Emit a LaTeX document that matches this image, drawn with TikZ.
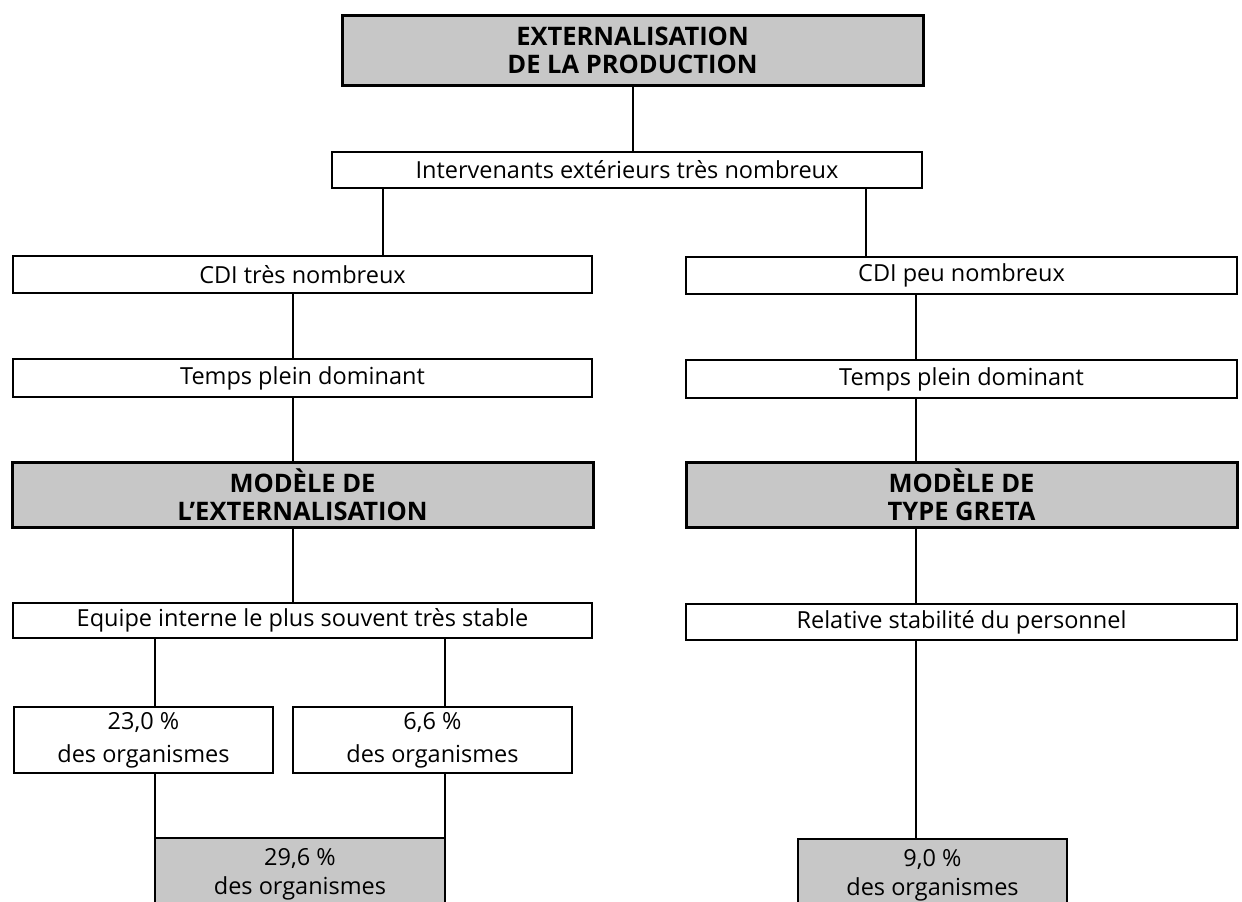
\documentclass[tikz,border=0pt]{standalone}
\usepackage{fontspec}
\setmainfont{Open Sans}
\begin{document}
\begin{tikzpicture}[x=1pt,y=-1pt,
  box/.style={draw=black,line width=2.6pt,fill=white,inner sep=0pt,align=center,font=\fontsize{23.5}{30}\selectfont},
  sbox/.style={draw=black,line width=1.8pt,fill=white,inner sep=0pt,align=center,font=\fontsize{23.5}{33}\selectfont},
  shbox/.style={draw=black,line width=3pt,fill=black!22,inner sep=0pt,align=center,font=\fontsize{25.5}{28}\selectfont\bfseries},
  shlow/.style={draw=black,line width=2pt,fill=black!22,inner sep=0pt,align=center,font=\fontsize{23.5}{29}\selectfont},
  conn/.style={draw=black,line width=1.3pt}]
\clip (0,0) rectangle (1242,902);
\fill[white] (0,0) rectangle (1242,902);
% nodes
\node[shbox,minimum width=581pt,minimum height=70pt] (top) at (632.5,50) {EXTERNALISATION\\DE LA PRODUCTION};
\node[box,minimum width=590pt,minimum height=36pt] (inter) at (627,170) {Intervenants extérieurs très nombreux};
\node[box,minimum width=579pt,minimum height=37pt] (cdiA) at (302.5,274.5) {CDI très nombreux};
\node[box,minimum width=551pt,minimum height=37pt] (cdiB) at (961.5,275.5) {CDI peu nombreux};
\node[box,minimum width=579pt,minimum height=38pt] (tpA) at (302.5,378) {Temps plein dominant};
\node[box,minimum width=551pt,minimum height=38pt] (tpB) at (961.5,379) {Temps plein dominant};
\node[shbox,minimum width=581pt,minimum height=65pt] (modA) at (302.5,494.5) {MODÈLE DE\\L’EXTERNALISATION};
\node[shbox,minimum width=551pt,minimum height=65pt] (modB) at (961.5,495) {MODÈLE DE\\TYPE GRETA};
\node[box,minimum width=579pt,minimum height=35pt] (eqA) at (302.5,620.5) {Equipe interne le plus souvent très stable};
\node[box,minimum width=551pt,minimum height=36pt] (relB) at (961.5,622) {Relative stabilité du personnel};
\node[sbox,minimum width=259pt,minimum height=66pt] (pA) at (143.5,740) {23,0 \%\\des organismes};
\node[sbox,minimum width=279pt,minimum height=66pt] (pB) at (432.5,740) {6,6 \%\\des organismes};
\node[shlow,minimum width=290pt,minimum height=72pt] (pT) at (300,874) {29,6 \%\\des organismes};
\node[shlow,minimum width=269pt,minimum height=72pt] (pG) at (932.5,875) {9,0 \%\\des organismes};
% connector columns
\coordinate (xa) at (633,0);
\coordinate (xb) at (383,0);
\coordinate (xc) at (866,0);
\coordinate (xd) at (293,0);
\coordinate (xe) at (916,0);
\coordinate (xf) at (155,0);
\coordinate (xg) at (445,0);
% connectors
\draw[conn] (top.south -| xa) -- (inter.north -| xa);
\draw[conn] (inter.south -| xb) -- (cdiA.north -| xb);
\draw[conn] (inter.south -| xc) -- (cdiB.north -| xc);
\draw[conn] (cdiA.south -| xd) -- (tpA.north -| xd);
\draw[conn] (tpA.south -| xd) -- (modA.north -| xd);
\draw[conn] (modA.south -| xd) -- (eqA.north -| xd);
\draw[conn] (cdiB.south -| xe) -- (tpB.north -| xe);
\draw[conn] (tpB.south -| xe) -- (modB.north -| xe);
\draw[conn] (modB.south -| xe) -- (relB.north -| xe);
\draw[conn] (relB.south -| xe) -- (pG.north -| xe);
\draw[conn] (eqA.south -| xf) -- (pA.north -| xf);
\draw[conn] (eqA.south -| xg) -- (pB.north -| xg);
\draw[conn] (pA.south -| xf) -- (pT.north -| xf);
\draw[conn] (pB.south -| xg) -- (pT.north -| xg);
\end{tikzpicture}
\end{document}
